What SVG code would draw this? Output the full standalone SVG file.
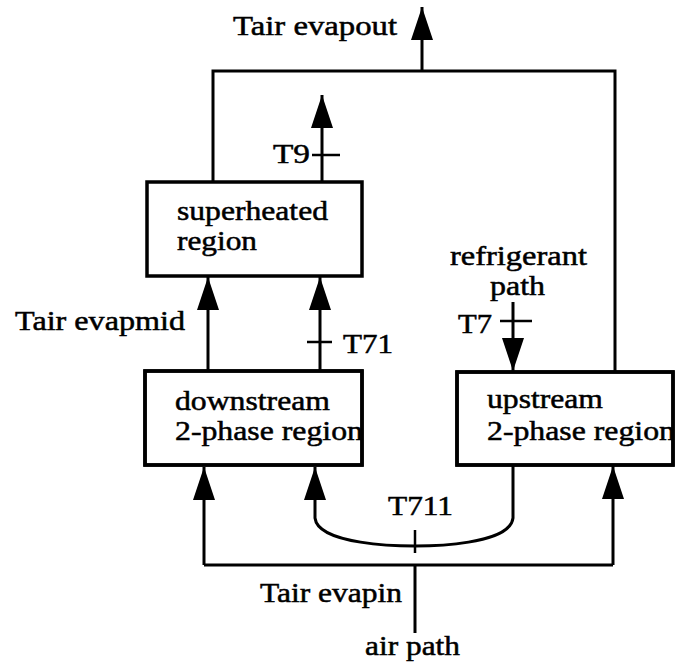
<svg xmlns="http://www.w3.org/2000/svg" width="676" height="667" viewBox="0 0 676 667">
<style>
text{font-family:"Liberation Serif","Times New Roman",serif;font-size:27px;fill:#000;stroke:#000;stroke-width:0.5}
.box{fill:#fff;stroke:#000;stroke-width:3.5}
.ln{fill:none;stroke:#000;stroke-width:3}
.tk{stroke:#000;stroke-width:2.5}
.arr{marker-end:url(#ah)}
</style>
<defs>
<marker id="ah" markerUnits="userSpaceOnUse" markerWidth="34" markerHeight="22" refX="33" refY="11" orient="auto">
<path d="M0,0 L33,11 L0,22 z" fill="#000"/>
</marker>
<clipPath id="cd"><rect x="145" y="371" width="217" height="94"/></clipPath>
<clipPath id="cu"><rect x="457" y="372" width="216" height="93"/></clipPath>
</defs>
<g id="connectors">
<line class="ln arr" x1="422" y1="71" x2="422" y2="7"/>
<path class="ln" d="M213,182 V71 H615 V372"/>
<line class="ln arr" x1="322" y1="182" x2="322" y2="95"/>
<line class="tk" x1="312" y1="155" x2="340" y2="155"/>
<line class="ln arr" x1="208" y1="371" x2="208" y2="277"/>
<line class="ln arr" x1="320" y1="371" x2="320" y2="277"/>
<line class="tk" x1="307" y1="342" x2="332" y2="342"/>
<line class="ln arr" x1="513" y1="302" x2="513" y2="371"/>
<line class="tk" x1="500" y1="321" x2="532" y2="321"/>
<line class="ln" x1="204" y1="565" x2="613" y2="565"/>
<line class="ln arr" x1="204" y1="565" x2="204" y2="467"/>
<line class="ln arr" x1="613" y1="565" x2="613" y2="466"/>
<line class="ln" x1="415" y1="565" x2="415" y2="633"/>
<path class="ln arr" d="M513,465 V518 C510,545 430,546 415,546 C400,546 318,545 315,518 V467"/>
<line class="tk" x1="415" y1="530" x2="415" y2="553"/>
</g>
<g id="superheated">
<rect class="box" x="147" y="182" width="215" height="94"/>
<text x="177" y="220" textLength="151" lengthAdjust="spacingAndGlyphs">superheated</text>
<text x="177" y="250" textLength="80" lengthAdjust="spacingAndGlyphs">region</text>
</g>
<g id="downstream">
<rect class="box" x="145" y="371" width="217" height="94"/>
<g clip-path="url(#cd)">
<text x="175" y="410" textLength="155" lengthAdjust="spacingAndGlyphs">downstream</text>
<text x="175" y="440" textLength="188" lengthAdjust="spacingAndGlyphs">2-phase region</text>
</g>
<rect x="145" y="371" width="217" height="94" fill="none" stroke="#000" stroke-width="3.5"/>
</g>
<g id="upstream">
<rect class="box" x="457" y="372" width="216" height="93"/>
<g clip-path="url(#cu)">
<text x="487" y="408" textLength="116" lengthAdjust="spacingAndGlyphs">upstream</text>
<text x="487" y="440" textLength="188" lengthAdjust="spacingAndGlyphs">2-phase region</text>
</g>
<rect x="457" y="372" width="216" height="93" fill="none" stroke="#000" stroke-width="3.5"/>
</g>
<g id="labels">
<text x="233" y="35" textLength="164" lengthAdjust="spacingAndGlyphs">Tair evapout</text>
<text x="273" y="163" textLength="37" lengthAdjust="spacingAndGlyphs">T9</text>
<text x="15" y="330" textLength="170" lengthAdjust="spacingAndGlyphs">Tair evapmid</text>
<text x="343" y="353" textLength="50" lengthAdjust="spacingAndGlyphs">T71</text>
<text x="450" y="265" textLength="137" lengthAdjust="spacingAndGlyphs">refrigerant</text>
<text x="490" y="295" textLength="55" lengthAdjust="spacingAndGlyphs">path</text>
<text x="458" y="333" textLength="34" lengthAdjust="spacingAndGlyphs">T7</text>
<text x="388" y="515" textLength="65" lengthAdjust="spacingAndGlyphs">T711</text>
<text x="260" y="602" textLength="142" lengthAdjust="spacingAndGlyphs">Tair evapin</text>
<text x="365" y="655" textLength="95" lengthAdjust="spacingAndGlyphs">air path</text>
</g>
</svg>
